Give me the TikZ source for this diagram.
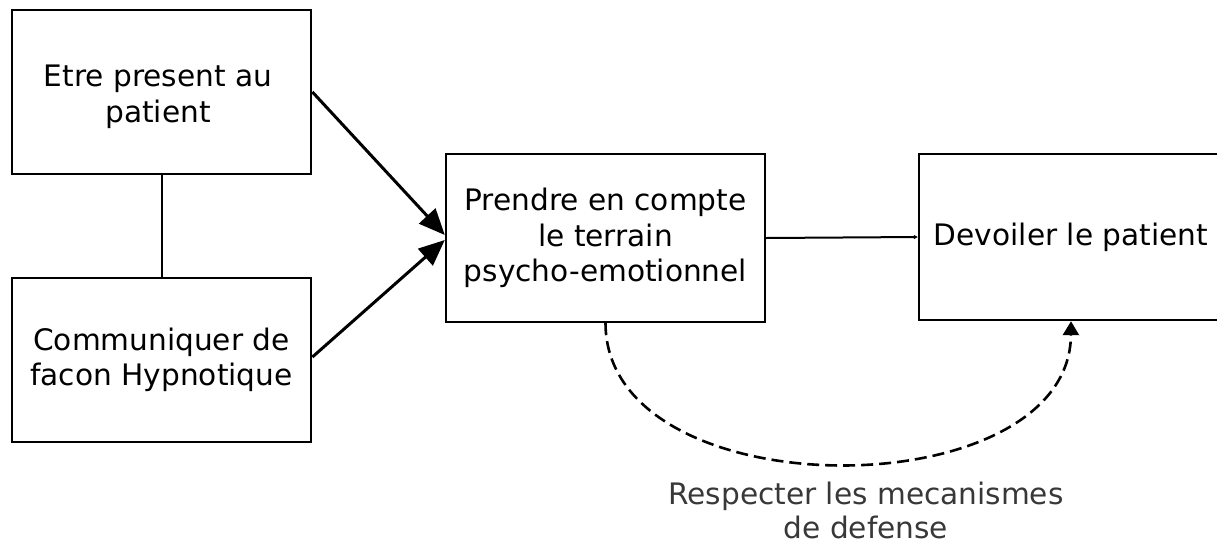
\documentclass[tikz,border=0pt]{standalone}
\usepackage{fontspec}
\setmainfont{DejaVu Sans}
\usetikzlibrary{arrows.meta}
\begin{document}
\begin{tikzpicture}[x=1pt,y=-1pt,
  box/.style={draw=black, line width=2.8pt, rectangle, inner sep=0pt, align=center,
    font=\fontsize{29.6}{35.5}\selectfont},
  txt/.style={inner sep=0pt, align=center, font=\fontsize{29.6}{35.5}\selectfont},
  link/.style={line width=2pt},
  bigarrow/.style={line width=3pt, -{Triangle[length=26pt,width=22pt]}},
  dasharrow/.style={line width=2.6pt, dash pattern=on 12pt off 6pt, -{Triangle[length=14pt,width=16pt]}},
  lbl/.style={align=center, inner sep=0pt, text=black!78, font=\fontsize{29.6}{34}\selectfont}]
\useasboundingbox (0,0) rectangle (1217,544);
\begin{scope}
\clip (0,0) rectangle (1217,544);
\node[box, minimum width=299pt, minimum height=164pt] (A) at (161.5,92) {};
\node[txt] (At) at (158,97) {Etre present au\\patient};
\node[box, minimum width=299pt, minimum height=164pt] (B) at (161.5,360) {Communiquer de\\facon Hypnotique};
\node[box, line width=2.4pt, minimum width=319pt, minimum height=168pt] (C) at (605.5,238) {Prendre en compte\\le terrain\\psycho-emotionnel};
\node[box, line width=2.4pt, minimum width=304pt, minimum height=166pt] (D) at (1071,237) {Devoiler le patient};
\end{scope}
\draw[link] (A.south) -- (B.north);
\draw[bigarrow] (A.east) -- ([yshift=3pt]C.west);
\draw[bigarrow] ([yshift=3pt]B.east) -- ([yshift=-2pt]C.west);
\draw[link, -{Triangle[length=4pt,width=4pt]}] (C.east) -- (D.west);
\draw[dasharrow] (C.south) .. controls (606,512) and (1070,510) .. (D.south);
\node[lbl] (L) at (866,510) {Respecter les mecanismes\\de defense};
\end{tikzpicture}
\end{document}
